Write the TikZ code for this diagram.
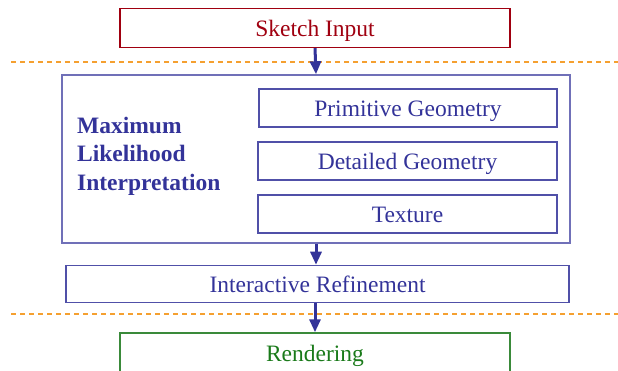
\documentclass[tikz,border=0pt]{standalone}
\usepackage{fontspec}
\setmainfont{Liberation Serif}
\usetikzlibrary{arrows.meta}
\definecolor{darkred}{HTML}{A00010}
\definecolor{navy}{HTML}{333399}
\definecolor{boxblue}{HTML}{5050A8}
\definecolor{outerblue}{HTML}{7070B8}
\definecolor{dgreen}{HTML}{1A7A1A}
\definecolor{gborder}{HTML}{3A8A3A}
\definecolor{dorange}{HTML}{F5A030}
\tikzset{
  box/.style={draw, rectangle, line width=1.5pt, inner sep=0pt, text height=17pt, text depth=0pt, font=\fontsize{23.5}{27}\selectfont},
  sep/.style={draw=dorange, line width=1.2pt, dash pattern=on 5pt off 4pt},
  flow/.style={draw=navy, line width=3pt, -{Triangle[width=11pt,length=13pt]}}
}
\begin{document}
\begin{tikzpicture}[x=1pt,y=-1pt]
\useasboundingbox (0,0) rectangle (618,371);
\clip (0,0) rectangle (618,371);
\node[box, draw=darkred, text=darkred, minimum width=390pt, minimum height=39pt] (sketch) at (315,27.8) {Sketch Input};
\node[box, draw=outerblue, minimum width=508pt, minimum height=168pt] (mli) at (316,159) {};
\node[box, draw=boxblue, text=navy, minimum width=298pt, minimum height=38pt] (prim) at (408,108) {Primitive Geometry};
\node[box, draw=boxblue, text=navy, minimum width=299pt, minimum height=38pt] (det) at (407.5,161) {Detailed Geometry};
\node[box, draw=boxblue, text=navy, minimum width=299pt, minimum height=38pt] (tex) at (407.5,214) {Texture};
\node[anchor=west, text=navy, align=left, inner sep=0pt, font=\fontsize{23.5}{28.5}\selectfont\bfseries] (label) at (77,156) {Maximum\\Likelihood\\Interpretation};
\node[box, draw=boxblue, text=navy, minimum width=503pt, minimum height=37pt] (refine) at (317.5,284) {Interactive Refinement};
\node[box, draw=gborder, text=dgreen, minimum width=390pt, minimum height=39pt] (render) at (315,352.5) {Rendering};
\coordinate (d1a) at (11,62);
\coordinate (d1b) at (618,62);
\coordinate (d2a) at (11,314);
\coordinate (d2b) at (618,314);
\draw[sep] (d1a) -- (d1b);
\draw[sep] (d2a) -- (d2b);
\draw[flow] (sketch.south) -- (mli.north);
\draw[flow] (mli.south) -- (mli.south |- refine.north);
\draw[flow] (refine.south -| render.north) -- (render.north);
\end{tikzpicture}
\end{document}
